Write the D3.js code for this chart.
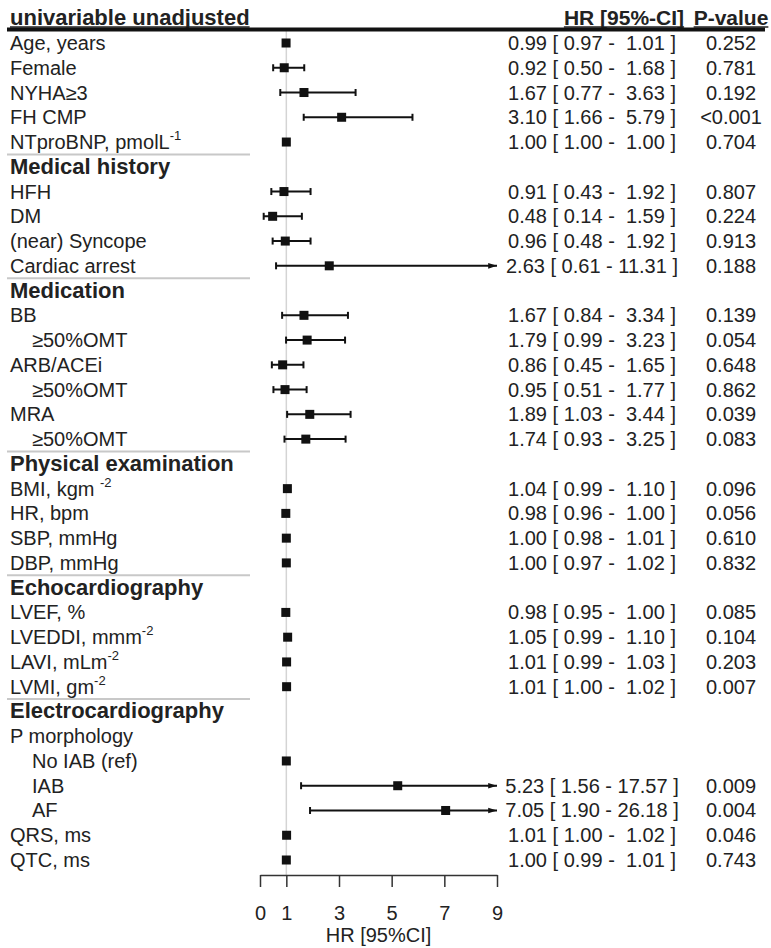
<!DOCTYPE html>
<html>
<head>
<meta charset="utf-8">
<script src="https://cdn.jsdelivr.net/npm/d3@7"></script>
<style>
  body { margin: 0; background: #fff; }
  text { font-family: "Liberation Sans", Arial, Helvetica, sans-serif; fill: #222; white-space: pre; }
</style>
</head>
<body>
<div id="chart"></div>
<script>
// rows of the table, top to bottom
const rowLabels = [
  "Age, years", "Female", "NYHA\u22653", "FH CMP", "NTproBNP, pmolL",
  "Medical history", "HFH", "DM", "(near) Syncope", "Cardiac arrest",
  "Medication", "BB", "\u226550%OMT", "ARB/ACEi", "\u226550%OMT", "MRA", "\u226550%OMT",
  "Physical examination", "BMI, kgm ", "HR, bpm", "SBP, mmHg", "DBP, mmHg",
  "Echocardiography", "LVEF, %", "LVEDDI, mmm", "LAVI, mLm", "LVMI, gm",
  "Electrocardiography", "P morphology", "No IAB (ref)", "IAB", "AF", "QRS, ms", "QTC, ms"
];
const labelSup = [
  null, null, null, null, "-1",
  null, null, null, null, null,
  null, null, null, null, null, null, null,
  null, "-2", null, null, null,
  null, null, "-2", "-2", "-2",
  null, null, null, null, null, null, null
];
const groupRows = ["Medical history", "Medication", "Physical examination", "Echocardiography", "Electrocardiography"];
const indentRows = [12, 14, 16, 29, 30, 31];

const hrEst = [0.99, 0.92, 1.67, 3.10, 1.00, null, 0.91, 0.48, 0.96, 2.63, null, 1.67, 1.79, 0.86, 0.95, 1.89, 1.74,
  null, 1.04, 0.98, 1.00, 1.00, null, 0.98, 1.05, 1.01, 1.01, null, null, 1.00, 5.23, 7.05, 1.01, 1.00];
const ciLow = [0.97, 0.50, 0.77, 1.66, 1.00, null, 0.43, 0.14, 0.48, 0.61, null, 0.84, 0.99, 0.45, 0.51, 1.03, 0.93,
  null, 0.99, 0.96, 0.98, 0.97, null, 0.95, 0.99, 0.99, 1.00, null, null, null, 1.56, 1.90, 1.00, 0.99];
const ciHigh = [1.01, 1.68, 3.63, 5.79, 1.00, null, 1.92, 1.59, 1.92, 11.31, null, 3.34, 3.23, 1.65, 1.77, 3.44, 3.25,
  null, 1.10, 1.00, 1.01, 1.02, null, 1.00, 1.10, 1.03, 1.02, null, null, null, 17.57, 26.18, 1.02, 1.01];
const pValues = ["0.252", "0.781", "0.192", "<0.001", "0.704", null, "0.807", "0.224", "0.913", "0.188", null,
  "0.139", "0.054", "0.648", "0.862", "0.039", "0.083", null, "0.096", "0.056", "0.610", "0.832", null,
  "0.085", "0.104", "0.203", "0.007", null, null, null, "0.009", "0.004", "0.046", "0.743"];

const xTicks = [0, 1, 3, 5, 7, 9];

const width = 771, height = 948;
const fs = 20, fsBold = 22;

const svg = d3.select("#chart").append("svg")
  .attr("width", width).attr("height", height);

const defs = svg.append("defs");
defs.append("marker")
  .attr("id", "arrow")
  .attr("viewBox", "0 0 10 10")
  .attr("refX", 10).attr("refY", 5)
  .attr("markerWidth", 4.4).attr("markerHeight", 4.4)
  .attr("markerUnits", "strokeWidth")
  .attr("orient", "auto")
  .append("path")
  .attr("d", "M0,1.8L10,5L0,8.2Z")
  .attr("fill", "#111");

const xScale = d3.scaleLinear().domain([0, 9]).range([260, 497]);
const yScale = d3.scaleLinear().domain([0, rowLabels.length - 1]).range([43, 860]);
const axisY = 875;

// reference line at HR = 1
svg.append("line")
  .attr("x1", xScale(1)).attr("x2", xScale(1))
  .attr("y1", 30).attr("y2", axisY)
  .attr("stroke", "#d4d4d4").attr("stroke-width", 1.5);

// header
const headers = [
  { t: "univariable unadjusted", x: 10, anchor: "start" },
  { t: "HR [95%-CI]", x: 624, anchor: "middle" },
  { t: "P-value", x: 731, anchor: "middle" }
];
headers.forEach(h => {
  const t = svg.append("text")
    .attr("x", h.x).attr("y", 25)
    .attr("text-anchor", h.anchor)
    .attr("font-size", h.anchor === "start" ? fsBold : 21).attr("font-weight", "bold")
    .text(h.t);
  const w = t.node().getComputedTextLength();
  const x0 = h.anchor === "middle" ? h.x - w / 2 : h.x;
  svg.append("line")
    .attr("x1", x0).attr("x2", x0 + w)
    .attr("y1", 27).attr("y2", 27)
    .attr("stroke", "#222").attr("stroke-width", 1.3);
});
svg.append("line")
  .attr("x1", 7).attr("x2", 765)
  .attr("y1", 29.5).attr("y2", 29.5)
  .attr("stroke", "#111").attr("stroke-width", 4);

// separators before groups
rowLabels.forEach((lab, i) => {
  if (groupRows.includes(lab)) {
    const y = (yScale(i) + yScale(i - 1)) / 2;
    svg.append("line")
      .attr("x1", 7).attr("x2", 250)
      .attr("y1", y).attr("y2", y)
      .attr("stroke", "#c8c8c8").attr("stroke-width", 2);
  }
});

// labels
const labels = svg.append("g").selectAll("text")
  .data(rowLabels)
  .join("text")
  .attr("x", (d, i) => indentRows.includes(i) ? 32 : 10)
  .attr("y", (d, i) => yScale(i) + 7)
  .attr("font-size", d => groupRows.includes(d) ? fsBold : fs)
  .attr("font-weight", d => groupRows.includes(d) ? "bold" : "normal")
  .text(d => d);
labels.filter((d, i) => labelSup[i])
  .append("tspan")
  .attr("font-size", 13)
  .attr("dy", -9)
  .text(function () {
    const i = rowLabels.indexOf(d3.select(this.parentNode).datum());
    return labelSup[i];
  });

// CI whiskers
const idx = d3.range(rowLabels.length);
const ciRows = idx.filter(i => ciLow[i] != null);
const plot = svg.append("g");
plot.selectAll("line.ci")
  .data(ciRows)
  .join("line")
  .attr("class", "ci")
  .attr("x1", i => xScale(Math.max(0, ciLow[i])))
  .attr("x2", i => xScale(Math.min(9, ciHigh[i])))
  .attr("y1", i => yScale(i)).attr("y2", i => yScale(i))
  .attr("stroke", "#111").attr("stroke-width", 2)
  .attr("marker-end", i => ciHigh[i] > 9 ? "url(#arrow)" : null);

const caps = [];
ciRows.forEach(i => {
  caps.push({ i, v: ciLow[i] });
  if (ciHigh[i] <= 9) caps.push({ i, v: ciHigh[i] });
});
plot.selectAll("line.cap")
  .data(caps)
  .join("line")
  .attr("class", "cap")
  .attr("x1", d => xScale(d.v)).attr("x2", d => xScale(d.v))
  .attr("y1", d => yScale(d.i) - 3.5).attr("y2", d => yScale(d.i) + 3.5)
  .attr("stroke", "#111").attr("stroke-width", 2);

// point estimates
const sq = 9;
plot.selectAll("rect")
  .data(idx.filter(i => hrEst[i] != null))
  .join("rect")
  .attr("x", i => xScale(hrEst[i]) - sq / 2)
  .attr("y", i => yScale(i) - sq / 2)
  .attr("width", sq).attr("height", sq)
  .attr("fill", "#111");

// HR [95%-CI] text and p-values
const f2 = v => v.toFixed(2);
svg.append("g").selectAll("text")
  .data(ciRows)
  .join("text")
  .attr("x", 592).attr("y", i => yScale(i) + 7)
  .attr("text-anchor", "middle")
  .attr("font-size", fs)
  .text(i => `${f2(hrEst[i])} [ ${f2(ciLow[i])} - ${f2(ciHigh[i]).padStart(5, " ")} ]`);

svg.append("g").selectAll("text")
  .data(idx.filter(i => pValues[i] != null))
  .join("text")
  .attr("x", 731).attr("y", i => yScale(i) + 7)
  .attr("text-anchor", "middle")
  .attr("font-size", fs)
  .text(i => pValues[i]);

// x axis
const xAxis = d3.axisBottom(xScale)
  .tickValues(xTicks)
  .tickFormat(d3.format("d"))
  .tickSizeInner(12)
  .tickSizeOuter(0)
  .tickPadding(19);

const gx = svg.append("g")
  .attr("transform", `translate(0,${axisY})`)
  .call(xAxis);
gx.select(".domain").attr("stroke", "#333").attr("stroke-width", 1.5);
gx.selectAll(".tick line").attr("stroke", "#333").attr("stroke-width", 1.5);
gx.selectAll(".tick text")
  .attr("font-size", fs)
  .attr("font-family", null)
  .attr("fill", "#222");
gx.attr("font-family", null).attr("font-size", null);

svg.append("text")
  .attr("x", (xScale(0) + xScale(9)) / 2)
  .attr("y", 942)
  .attr("text-anchor", "middle")
  .attr("font-size", fs)
  .text("HR [95%CI]");
</script>
</body>
</html>
